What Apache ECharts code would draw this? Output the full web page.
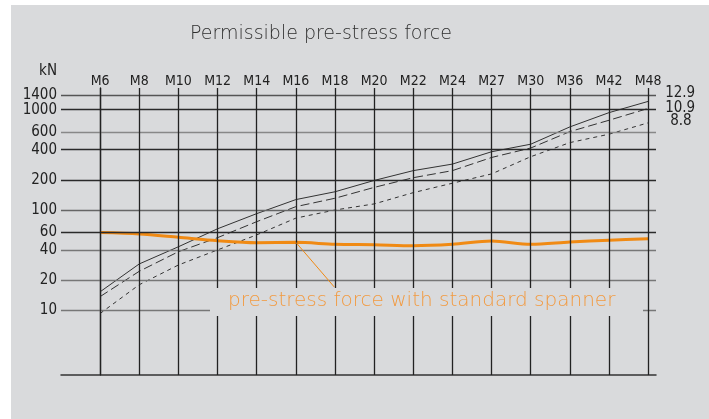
<!DOCTYPE html>
<html>
<head>
<meta charset="utf-8">
<script src="https://cdn.jsdelivr.net/npm/echarts@6/dist/echarts.min.js"></script>
<style>
html,body{margin:0;padding:0;background:#fff;}
#c{width:709px;height:419px;}
</style>
</head>
<body>
<div id="c"></div>
<script>
// ---- data ----
var categories = ['M6','M8','M10','M12','M14','M16','M18','M20','M22','M24','M27','M30','M36','M42','M48'];
var grade129 = [15.3, 29, 43, 65, 92, 127, 152, 197, 247, 287, 381, 453, 674, 935, 1210];
var grade109 = [13.7, 24.5, 38.4, 53, 76.5, 108, 131, 168, 210, 247, 334, 415, 605, 785, 1030];
var grade88  = [9.3, 18, 28.3, 40, 56.5, 83, 100, 115, 149, 185, 229, 340, 470, 570, 740];
var spanner  = [59.5, 57.6, 53.4, 49.4, 47.2, 47.6, 45.5, 45, 44, 45.5, 49, 45.5, 48, 49.9, 51.8];
var yTicks   = [1400, 1000, 600, 400, 200, 100, 60, 40, 20, 10];
var gradeNames = ['12.9', '10.9', '8.8'];
var unitText = 'kN';
var titleText = 'Permissible pre-stress force';
var noteText = 'pre-stress force with standard spanner';

// ---- styles ----
var hLineColor = {1400:'#555', 1000:'#2a2a2a', 600:'#888', 400:'#2a2a2a', 200:'#2a2a2a', 100:'#666', 60:'#2a2a2a', 40:'#777', 20:'#777', 10:'#777'};
var numFont = "'DejaVu Sans Condensed', 'Liberation Sans Narrow', 'Liberation Sans', sans-serif";
var ink = '#222';

function idxData(arr){ return arr.map(function(v,i){ return [i, v]; }); }

var chart = echarts.init(document.getElementById('c'), null, {renderer:'canvas'});

var gridMarkLine = {
  silent: true,
  symbol: 'none',
  animation: false,
  data: []
};
yTicks.forEach(function(v){
  gridMarkLine.data.push({
    yAxis: v, name: String(v),
    lineStyle: {color: hLineColor[v], width: 1.3, type: 'solid'},
    label: {show: true, position: 'start', formatter: '{b}', distance: 4,
            color: ink, fontFamily: numFont, fontSize: 15}
  });
});
categories.forEach(function(c, i){
  gridMarkLine.data.push({
    xAxis: i, name: c,
    lineStyle: {color: '#222', width: 1.3, type: 'solid'},
    label: {show: true, position: 'end', formatter: '{b}', distance: 0,
            color: ink, fontFamily: numFont, fontSize: 14}
  });
});

function gradeSeries(name, data, dash, dist, offY, withGrid){
  var s = {
    name: name, type: 'line', data: idxData(data), symbol: 'none',
    lineStyle: {color: '#333', width: 1, type: dash},
    z: 3,
    endLabel: {show: true, formatter: '{a}', distance: dist, offset: [0, offY],
               color: ink, fontFamily: numFont, fontSize: 15}
  };
  if (withGrid) s.markLine = gridMarkLine;
  return s;
}

var option = {
  backgroundColor: '#ffffff',
  animation: false,
  title: {
    text: titleText, left: 316, top: 20, textAlign: 'center',
    textStyle: {fontFamily: "'DejaVu Sans', sans-serif", fontWeight: 200, fontSize: 19, color: '#2e2e2e'}
  },
  grid: {left: 61, right: 53, top: 88, bottom: 44},
  xAxis: {
    type: 'value', min: -1, max: 14.2,
    axisLine: {show: true, onZero: false, lineStyle: {color: '#333', width: 1.5}},
    axisTick: {show: false}, axisLabel: {show: false}, splitLine: {show: false}
  },
  yAxis: {
    type: 'log', logBase: 10, min: 2.264, max: 1646,
    axisLine: {show: true, lineStyle: {color: '#222', width: 1.3}},
    axisTick: {show: false}, axisLabel: {show: false}, splitLine: {show: false}
  },
  graphic: [
    {type: 'rect', z: -10, shape: {x: 11, y: 5, width: 698, height: 414}, style: {fill: '#d9dadc'}},
    {type: 'text', z: 5, style: {text: unitText, x: 57, y: 71, align: 'right', verticalAlign: 'middle',
      textAlign: 'right', textVerticalAlign: 'middle', font: "15px 'DejaVu Sans Condensed', 'Liberation Sans', sans-serif", fill: ink}},
    {type: 'rect', z: 100, shape: {x: 210, y: 288, width: 433, height: 28}, style: {fill: '#d9dadc'}},
    {type: 'text', z: 101, style: {text: noteText, x: 228, y: 301, verticalAlign: 'middle', textVerticalAlign: 'middle',
      font: "200 20px 'DejaVu Sans', sans-serif", fill: '#f29a40'}}
  ],
  series: [
    gradeSeries(gradeNames[0], grade129, 'solid', 17, -8, true),
    gradeSeries(gradeNames[1], grade109, [9, 4], 17, 0, false),
    gradeSeries(gradeNames[2], grade88, [4, 4], 22, -2, false),
    {
      name: 'spanner', type: 'line', data: idxData(spanner), symbol: 'none', smooth: 0.3, z: 4,
      lineStyle: {color: '#f08a14', width: 3},
      markLine: {
        silent: true, symbol: 'none', animation: false,
        lineStyle: {color: '#f08a14', width: 1, type: 'solid'},
        label: {show: false},
        data: [[{coord: [5, spanner[5]]}, {coord: [5.98, 17.1]}]]
      }
    }
  ]
};
chart.setOption(option);
</script>
</body>
</html>
